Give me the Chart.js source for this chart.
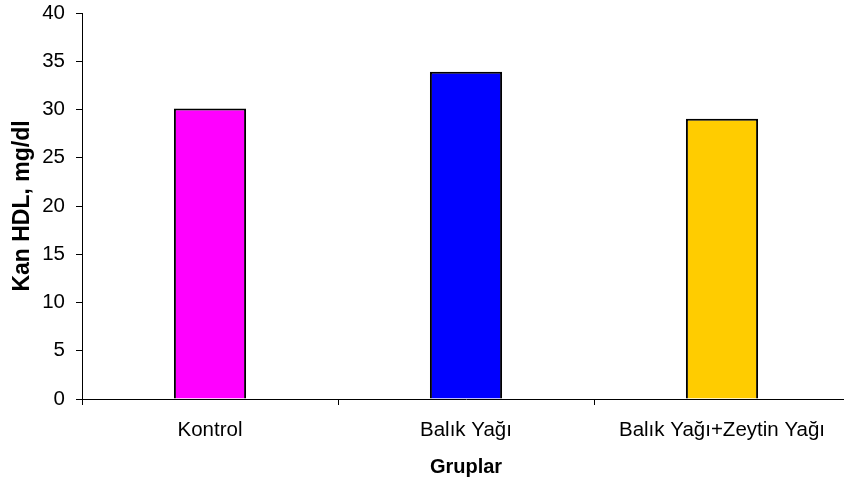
<!DOCTYPE html>
<html>
<head>
<meta charset="utf-8">
<script src="https://cdn.jsdelivr.net/npm/chart.js@4/dist/chart.umd.min.js"></script>
<style>
  html, body { margin: 0; padding: 0; background: #ffffff; overflow: hidden; }
  #wrap { width: 844px; height: 490px; position: relative; overflow: hidden; }
  #c { display: block; }
</style>
</head>
<body>
<div id="wrap"><canvas id="c" width="850" height="490"></canvas></div>
<script>
// Blood HDL by group
const groups = ['Kontrol', 'Balık Yağı', 'Balık Yağı+Zeytin Yağı'];
const hdlValues = [30.1, 33.9, 29.05];
const barColors = ['#ff00ff', '#0000ff', '#ffcc00'];
const yTicks = [0, 5, 10, 15, 20, 25, 30, 35, 40];

const fontFamily = 'Arial, "Liberation Sans", sans-serif';

new Chart(document.getElementById('c'), {
  type: 'bar',
  data: {
    labels: groups,
    datasets: [{
      data: hdlValues,
      backgroundColor: barColors,
      borderColor: '#000000',
      borderWidth: 2,
      borderSkipped: 'bottom',
      categoryPercentage: 1,
      barPercentage: 0.282
    }]
  },
  options: {
    responsive: false,
    animation: false,
    devicePixelRatio: 1,
    layout: { padding: { top: 13, right: 0, left: 0, bottom: 0 } },
    plugins: {
      legend: { display: false },
      tooltip: { enabled: false }
    },
    scales: {
      x: {
        offset: true,
        afterFit: (scale) => { scale.height = 91; },
        grid: {
          offset: true,
          drawOnChartArea: false,
          drawTicks: true,
          tickLength: 6,
          color: '#000000',
          lineWidth: 1
        },
        border: { display: true, color: '#000000', width: 1 },
        ticks: {
          color: '#000000',
          font: { family: fontFamily, size: 20.5 },
          padding: 13,
          maxRotation: 0
        },
        title: {
          display: true,
          text: 'Gruplar',
          color: '#000000',
          font: { family: fontFamily, size: 20, weight: 'bold' },
          padding: { top: 0, bottom: 11 }
        }
      },
      y: {
        min: 0,
        max: 40,
        afterFit: (scale) => {
          scale.width = 82;
          scale.paddingTop = 0;
          scale.paddingBottom = 0;
        },
        afterBuildTicks: (axis) => { axis.ticks = yTicks.map(v => ({ value: v })); },
        grid: {
          drawOnChartArea: false,
          drawTicks: true,
          tickLength: 6,
          color: '#000000',
          lineWidth: 1
        },
        border: { display: true, color: '#000000', width: 1 },
        ticks: {
          color: '#000000',
          font: { family: fontFamily, size: 20.5 },
          padding: 11
        },
        title: {
          display: true,
          text: 'Kan HDL, mg/dl',
          color: '#000000',
          font: { family: fontFamily, size: 23, weight: 'bold' },
          padding: { top: 9, bottom: 0 }
        }
      }
    }
  }
});
</script>
</body>
</html>
